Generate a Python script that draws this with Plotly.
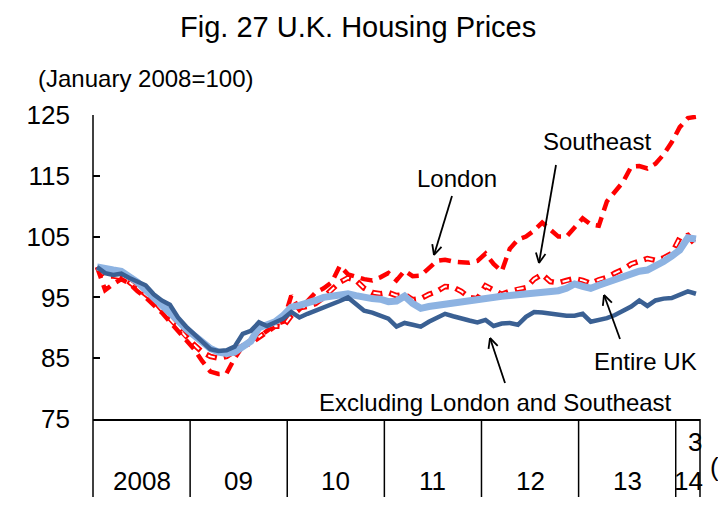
import plotly.graph_objects as go
import math

# ---- data (monthly, Jan 2008 .. Mar 2014, Jan 2008 = 100) ----
months = list(range(75))
london = [100, 96.2, 97.2, 98.0, 97.3, 96.0, 95.0, 93.8, 92.5, 91.0, 89.5, 88.0,
          86.5, 84.5, 82.8, 82.4, 82.5, 85.0, 87.0, 88.0, 88.5, 89.5, 90.5, 91.0,
          95.3, 93.0, 94.5, 95.8, 96.5, 97.5, 100.2, 98.8, 98.4, 98.0, 97.8, 98.3,
          99.0, 97.8, 99.4, 98.5, 98.6, 99.8, 101.0, 101.2, 100.9, 100.8, 100.7, 101.0,
          102.2, 100.5, 99.3, 103.0, 104.5, 105.0, 106.0, 107.3, 106.2, 105.0, 105.0, 106.5,
          108.0, 107.0, 106.8, 110.8, 112.5, 114.0, 116.5, 116.6, 116.2, 117.0, 118.5, 120.5,
          123.0, 124.5, 124.7]
southeast = [100, 98.5, 98.5, 98.3, 97.5, 96.5, 95.5, 94.5, 93.0, 91.5, 90.0, 88.5,
             87.2, 86.0, 85.3, 85.0, 85.3, 86.2, 87.0, 87.5, 88.5, 89.5, 90.3, 90.2,
             92.0, 93.3, 93.5, 94.0, 95.0, 96.3, 97.5, 98.2, 97.8, 96.5, 95.8, 95.6,
             95.8, 95.3, 95.5, 94.6, 94.8, 95.5, 96.0, 96.8, 96.7, 96.0, 95.0, 94.8,
             96.9, 96.2, 95.5, 96.0, 96.4, 96.6, 98.0, 98.8, 97.6, 97.4, 97.8, 98.1,
             97.8, 97.3, 97.9, 98.3, 99.0, 99.6, 100.5, 101.0, 101.4, 101.1, 101.5, 102.2,
             104.8, 105.2, 103.6]
entire_uk = [100, 99.6, 99.5, 99.3, 98.5, 97.5, 96.2, 95.0, 93.8, 92.6, 91.2, 89.8,
             88.8, 87.6, 86.6, 86.0, 85.8, 86.0, 86.8, 87.8, 90.0, 90.6, 91.0, 92.0,
             93.4, 93.7, 94.0, 94.5, 95.0, 95.2, 95.4, 95.6, 95.3, 94.9, 94.8, 94.7,
             94.3, 94.4, 95.2, 94.0, 93.2, 93.5, 93.7, 93.9, 94.2, 94.4, 94.5, 94.7,
             94.8, 95.0, 95.2, 95.3, 95.4, 95.5, 95.6, 95.8, 95.9, 96.1, 96.5, 97.2,
             96.8, 96.5, 97.0, 97.5, 98.0, 98.5, 98.9, 99.3, 99.5, 100.1, 100.9, 101.8,
             102.8, 104.8, 104.6]
excl_london_se = [100, 99.0, 98.7, 98.9, 98.2, 97.6, 97.0, 95.5, 94.5, 93.8, 91.7, 90.2,
                  89.0, 87.8, 86.5, 86.2, 86.3, 86.9, 89.0, 89.5, 90.9, 90.3, 90.9, 91.5,
                  92.6, 91.7, 92.3, 92.8, 93.4, 93.9, 94.4, 95.0, 94.0, 92.8, 92.5, 92.0,
                  91.5, 90.2, 90.8, 90.5, 90.2, 91.0, 91.6, 92.3, 91.9, 91.5, 91.2, 90.9,
                  91.3, 90.3, 90.7, 90.8, 90.5, 91.8, 92.6, 92.5, 92.3, 92.2, 92.0, 92.0,
                  92.3, 91.0, 91.3, 91.6, 92.1, 92.8, 93.5, 94.5, 93.6, 94.5, 94.8, 94.9,
                  95.4, 96.0, 95.6]
year_labels = ["2008", "09", "10", "11", "12", "13", "14"]
y_ticks = [75, 85, 95, 105, 115, 125]

# ---- geometry helpers (pixel -> paper) ----
W, H = 718, 512
L, R, T, B = 93, 700, 115, 419
def px(x):
    return (x - L) / (R - L)
def py(y):
    return (B - y) / (B - T)

FONT = "Liberation Sans, Arial, sans-serif"

fig = go.Figure()
# Southeast: red outlined dashes (red dashes with white core)
fig.add_trace(go.Scatter(x=months, y=southeast, mode="lines",
                         line=dict(color="#FF0000", width=5.5, dash="11px,7px"),
                         hoverinfo="skip", showlegend=False))
fig.add_trace(go.Scatter(x=months, y=southeast, mode="lines",
                         line=dict(color="#FFFFFF", width=2, dash="0px,2px,7px,9px"),
                         hoverinfo="skip", showlegend=False))
# London: bold red dashes
fig.add_trace(go.Scatter(x=months, y=london, mode="lines",
                         line=dict(color="#FF0000", width=4.5, dash="12px,7px"),
                         showlegend=False))
# Entire UK: thick light blue
fig.add_trace(go.Scatter(x=months, y=entire_uk, mode="lines",
                         line=dict(color="#8DB3E2", width=7),
                         showlegend=False))
# Excluding London and Southeast: dark blue
fig.add_trace(go.Scatter(x=months, y=excl_london_se, mode="lines",
                         line=dict(color="#3A6093", width=4.5),
                         showlegend=False))

shapes = []
# y-axis line extended through the year-label band
shapes.append(dict(type="line", xref="paper", yref="paper",
                   x0=px(93), x1=px(93), y0=py(115), y1=py(497),
                   line=dict(color="black", width=1.5)))
# year separators
for i in range(1, 7):
    xb = px(L + 12 * i * (R - L) / 75)
    shapes.append(dict(type="line", xref="paper", yref="paper",
                       x0=xb, x1=xb, y0=py(419), y1=py(497),
                       line=dict(color="black", width=1.5)))
shapes.append(dict(type="line", xref="paper", yref="paper",
                   x0=px(700), x1=px(700), y0=py(419), y1=py(497),
                   line=dict(color="black", width=1.5)))

# arrows (tail -> tip), with open V heads
def arrow(tx, ty, hx, hy, head=11, ang=26):
    shapes.append(dict(type="line", xref="paper", yref="paper",
                       x0=px(tx), y0=py(ty), x1=px(hx), y1=py(hy),
                       line=dict(color="black", width=1.8)))
    a = math.atan2(ty - hy, tx - hx)
    for s in (-1, 1):
        b = a + s * math.radians(ang)
        ex, ey = hx + head * math.cos(b), hy + head * math.sin(b)
        shapes.append(dict(type="line", xref="paper", yref="paper",
                           x0=px(hx), y0=py(hy), x1=px(ex), y1=py(ey),
                           line=dict(color="black", width=1.8)))

arrow(452, 196, 434, 255)   # London
arrow(556, 165, 539, 263)   # Southeast
arrow(620, 339, 604, 295)   # Entire UK
arrow(505, 383, 490, 338)   # Excluding London and Southeast

annotations = []
def text(t, x, y, size=24, xanchor="center"):
    annotations.append(dict(text=t, x=px(x), y=py(y), xref="paper", yref="paper",
                            showarrow=False, xanchor=xanchor, yanchor="middle",
                            font=dict(family=FONT, size=size, color="black")))

text("Fig. 27 U.K. Housing Prices", 358, 27, size=29)
text("(January 2008=100)", 36, 78, size=24, xanchor="left")
text("London", 457, 178)
text("Southeast", 597, 141)
text("Entire UK", 645, 361)
text("Excluding London and Southeast", 495, 402)
# year labels
centers = [L + (12 * i + 6) * (R - L) / 75 for i in range(6)]
for lab, cx in zip(year_labels[:6], centers):
    text(lab, cx, 481, size=26)
text(year_labels[6], 688, 481, size=26)
text("3", 695, 442, size=26)
text("(", 708, 467, size=26, xanchor="left")

fig.update_layout(
    width=W, height=H,
    margin=dict(l=L, r=W - R, t=T, b=H - B),
    plot_bgcolor="white", paper_bgcolor="white",
    shapes=shapes, annotations=annotations,
    xaxis=dict(range=[-0.5, 74.5], showgrid=False, zeroline=False,
               showticklabels=False, ticks="",
               showline=True, linecolor="black", linewidth=1.5),
    yaxis=dict(range=[75, 125], tickvals=y_ticks, showgrid=False, zeroline=False,
               ticks="inside", ticklen=7, tickwidth=1.5, tickcolor="black",
               showline=False, ticklabelstandoff=22,
               tickfont=dict(family=FONT, size=26, color="black")),
    font=dict(family=FONT, color="black"),
)

fig.write_html("out.html", config={"displayModeBar": False},
               post_script="document.body.style.margin='0';document.body.style.overflow='hidden';")
